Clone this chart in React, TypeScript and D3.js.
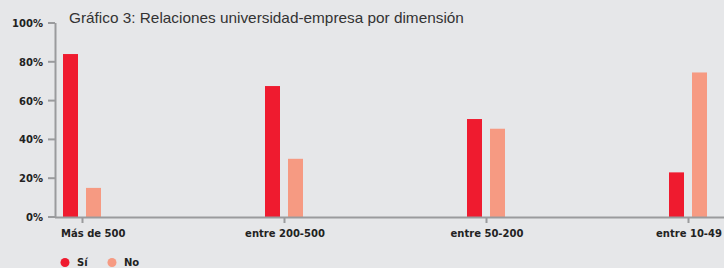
import React from "react";
import * as d3 from "d3";

const categories = ["Más de 500", "entre 200-500", "entre 50-200", "entre 10-49"];
const siValues = [84, 67.5, 50.5, 23];
const noValues = [15, 30, 45.5, 74.5];
const yTicks = [0, 20, 40, 60, 80, 100];
const seriesNames = ["Sí", "No"];
const seriesColors = ["#ef1b2f", "#f69a82"];

const W = 724;
const H = 268;

export default function App() {
  const y = d3.scaleLinear().domain([0, 100]).range([217, 23]);
  const x = d3.scalePoint<string>().domain(categories).range([82, 688]);
  const barW = 15;
  const gap = 4;
  const axisColor = "#9a9b9d";
  const font = "Liberation Sans, Arial, Helvetica, sans-serif";
  const boldFont = "DejaVu Sans, sans-serif";
  return (
    <svg width={W} height={H} style={{ position: "absolute", left: 0, top: 0, display: "block" }}>
      <rect x={0} y={0} width={W} height={H} fill="#e6e7e9" />
      <text x={69} y={23} fontFamily={font} fontSize={15.35} fill="#333">
        Gráfico 3: Relaciones universidad-empresa por dimensión
      </text>
      {/* y axis */}
      <line x1={55.5} x2={55.5} y1={y(100)} y2={y(0)} stroke={axisColor} strokeWidth={2} />
      {yTicks.map((t) => (
        <g key={t}>
          <line x1={48} x2={55} y1={y(t)} y2={y(t)} stroke={axisColor} strokeWidth={2} />
          <text x={43} y={y(t) + 4} textAnchor="end" fontFamily={boldFont} fontWeight="bold" fontSize={10} fill="#222">
            {t}%
          </text>
        </g>
      ))}
      {/* bars */}
      {categories.map((c, i) => {
        const cx = x(c)!;
        return (
          <g key={c}>
            <rect x={cx - gap - barW} y={y(siValues[i])} width={barW} height={y(0) - y(siValues[i])} fill={seriesColors[0]} />
            <rect x={cx + gap} y={y(noValues[i])} width={barW} height={y(0) - y(noValues[i])} fill={seriesColors[1]} />
          </g>
        );
      })}
      {/* x axis */}
      <line x1={55} x2={W} y1={217.5} y2={217.5} stroke={axisColor} strokeWidth={2} />
      {categories.map((c, i) => (
        <g key={c}>
          <line x1={x(c)! + 0.5} x2={x(c)! + 0.5} y1={218} y2={223} stroke={axisColor} strokeWidth={2} />
          <text
            x={i === 0 ? 61 : x(c)! + 1}
            y={236.5}
            textAnchor={i === 0 ? "start" : "middle"}
            fontFamily={boldFont}
            fontWeight="bold"
            fontSize={10}
            fill="#222"
          >
            {c}
          </text>
        </g>
      ))}
      {/* legend */}
      {seriesNames.map((s, i) => (
        <g key={s}>
          <circle cx={65 + i * 47} cy={262.5} r={4.5} fill={seriesColors[i]} />
          <text x={77 + i * 47} y={266} fontFamily={boldFont} fontWeight="bold" fontSize={10} fill="#222">
            {s}
          </text>
        </g>
      ))}
    </svg>
  );
}
